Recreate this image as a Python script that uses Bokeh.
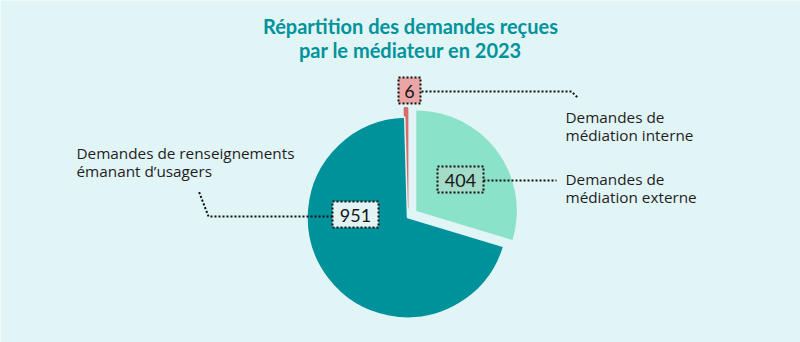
import numpy as np
from bokeh.plotting import figure
from bokeh.models import Range1d
from bokeh.core.properties import value
from bokeh.embed import file_html
from bokeh.resources import INLINE

# ---- data ----
categories = ["Demandes de médiation externe",
              "Demandes de renseignements émanant d\u2019usagers",
              "Demandes de médiation interne"]
counts = [404, 951, 6]
value_labels = ["404", "951", "6"]
label_lines = [["Demandes de", "médiation externe"],
               ["Demandes de renseignements", "émanant d\u2019usagers"],
               ["Demandes de", "médiation interne"]]
title_lines = ["Répartition des demandes reçues", "par le médiateur en 2023"]

# ---- style / layout ----
W, H = 800, 342
BG = "#e1f4f6"
slice_colors = ["#8ae2c8", "#00929a", "#d86a6a"]
slice_lines = [None, BG, "#d86a6a"]
slice_lw = [0, 1.5, 2]
draw_order = [0, 2, 1]
box_fills = ["#a3dcc9", "#e3f3f4", "#eaa6a6"]
explode = [11, 0, 9]
CX, CY, R = 407, 217, 100.5          # pixel coords (y from top)
FONT = "Open Sans"
TFONT = "Lato"

def Y(py):
    return H - py

p = figure(width=W, height=H, output_backend="svg", toolbar_location=None,
           x_range=Range1d(0, W), y_range=Range1d(0, H), min_border=0)
p.axis.visible = False
p.grid.visible = False
p.outline_line_color = None
p.background_fill_color = BG
p.border_fill_color = BG

total = float(sum(counts))
fr = np.array(counts) / total
ends = np.cumsum(fr) * 2 * np.pi
starts = ends - fr * 2 * np.pi
mids = (starts + ends) / 2
for i in draw_order:
    x = CX + explode[i] * np.sin(mids[i])
    y = Y(CY) + explode[i] * np.cos(mids[i])
    p.wedge(x=[x], y=[y], radius=R, start_angle=np.pi / 2 - starts[i],
            end_angle=np.pi / 2 - ends[i], direction="clock",
            fill_color=slice_colors[i], line_color=slice_lines[i],
            line_width=slice_lw[i])

# title
for i, t in enumerate(title_lines):
    p.text(x=[410], y=[Y(25 + 24 * i)], text=[t], text_align="center",
           text_baseline="middle", text_font=value(TFONT), text_font_style="bold",
           text_font_size="20px", text_color="#00939b")

# value boxes: (center x, center y, w, h) in pixel coordinates
boxes = [(460, 179, 46, 26), (355, 214, 46, 26), (409, 90, 22, 26)]
for (bx, by, bw, bh), fill, lab in zip(boxes, box_fills, value_labels):
    p.rect(x=[bx], y=[Y(by)], width=bw, height=bh, fill_color=fill,
           line_color="#111111", line_width=2, line_dash="2 2")
    p.text(x=[bx], y=[Y(by) - 1], text=[lab], text_align="center",
           text_baseline="middle", text_font=value(TFONT),
           text_font_size="18px", text_color="#161616")

# leader lines (pixel coordinates)
leaders = [([483, 556], [180, 180]),
           ([332, 208, 198], [216, 216, 190]),
           ([421, 571, 577], [91, 91, 97])]
for lx, ly in leaders:
    p.line(x=lx, y=[Y(v) for v in ly], line_color="#111111", line_width=2,
           line_dash="2 2")

# category labels
label_pos = [(565, 178, "left"), (76, 152, "left"), (565, 116, "left")]
for (tx, ty, al), lines in zip(label_pos, label_lines):
    for j, t in enumerate(lines):
        p.text(x=[tx], y=[Y(ty + 18 * j)], text=[t], text_align=al,
               text_baseline="middle", text_font=value(FONT),
               text_font_size="15.3px", text_color="#1e1e1e")

open("out.html", "w").write(file_html(p, INLINE))
